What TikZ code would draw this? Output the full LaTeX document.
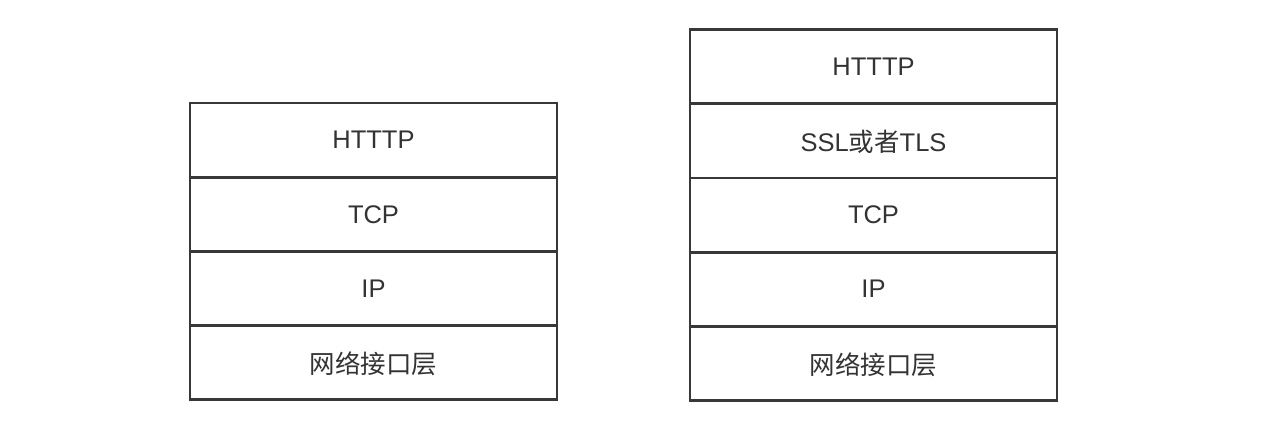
\documentclass[tikz,border=0pt]{standalone}
\usepackage{fontspec}
\setmainfont{Liberation Sans}
\newfontfamily\cjk{Noto Sans CJK SC}
\usetikzlibrary{positioning}
\colorlet{layerline}{black!78}
\colorlet{layertext}{black!80}
\tikzset{layer/.style={draw=layerline,line width=2.8pt,minimum width=367pt,minimum height=74.2pt,
  outer sep=0pt,inner sep=0pt,text=layertext,font=\fontsize{25.5}{30}\selectfont,text depth=0pt}}

\begin{document}
\begin{tikzpicture}[x=1pt,y=1pt]
\useasboundingbox (0,0) rectangle (1270,-436);
% ---- plain HTTP stack ----
\node[layer,anchor=north west] (lhttp) at (190,-103) {HTTTP};
\node[layer,below=0pt of lhttp] (ltcp) {TCP};
\node[layer,below=0pt of ltcp] (lip) {IP};
\node[layer,below=0pt of lip] (lnet) {\cjk 网络接口层};
% ---- HTTPS stack, one layer more ----
\node[layer,anchor=north west] (rhttp) at (690,-29.5) {HTTTP};
\node[layer,below=0pt of rhttp] (rssl) {SSL{\cjk 或者}TLS};
\node[layer,below=0pt of rssl] (rtcp) {TCP};
\node[layer,below=0pt of rtcp] (rip) {IP};
\node[layer,below=0pt of rip] (rnet) {\cjk 网络接口层};
\end{tikzpicture}
\end{document}
